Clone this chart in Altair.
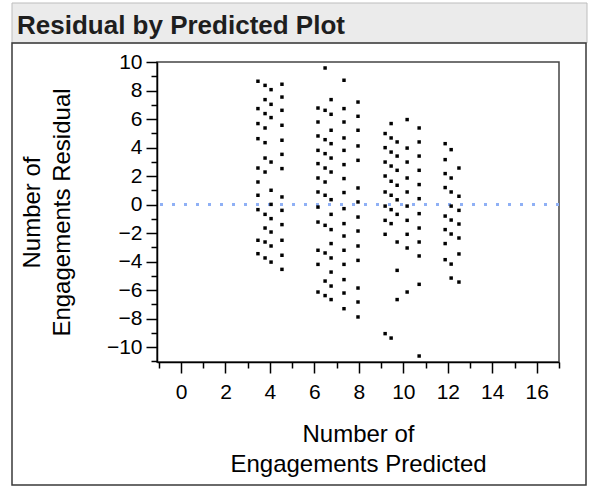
import altair as alt
import pandas as pd

# Predicted values (x) of each vertical column of points
pred_cols = [3.46, 3.78, 4.05, 4.54, 6.16, 6.48, 6.75, 7.33, 7.96,
             9.18, 9.45, 9.72, 10.17, 10.71, 11.88, 12.15, 12.5]

# Residuals read for each column
res_A = [8.65, 6.73, 5.68, 4.62, 2.56, 1.58, 0.65, -0.36, -2.51, -3.45]
res_B = [8.36, 7.36, 6.38, 5.37, 4.34, 3.26, 2.28, -0.69, -1.65, -2.63, -3.75]
res_C = [8.06, 7.03, 6.10, 2.98, 1.0, 0.01, -0.99, -1.93, -2.91, -4.04]
res_D = [8.44, 7.54, 6.61, 5.56, 4.51, 3.52, 2.52, 0.53, -0.41, -1.41, -2.51, -3.56, -4.55]
res_E = [6.77, 5.79, 4.81, 3.80, 2.87, 1.86, 0.88, -0.18, -1.23, -3.21, -4.20, -6.14]
res_F = [9.58, 6.61, 4.55, 3.57, 2.56, 1.58, 0.65, -1.46, -3.40, -5.37, -6.39]
res_G = [7.36, 6.33, 5.21, 4.27, 3.26, 2.28, 0.34, -0.69, -1.76, -2.74, -3.75, -4.74, -5.72, -6.67]
res_H = [8.72, 6.73, 5.79, 4.67, 3.80, 2.80, 1.82, 0.84, -0.29, -1.34, -2.21, -3.21, -4.20, -5.27, -6.21, -7.31]
res_I = [7.19, 6.19, 5.21, 4.11, 3.10, 1.16, 0.18, -0.88, -1.86, -2.91, -3.92, -5.86, -6.84, -7.89]
res_J = [4.98, 3.99, 2.98, 2.0, 0.88, -0.11, -1.11, -2.09, -9.06]
res_K = [5.68, 4.67, 3.68, 2.70, 1.63, 0.65, -0.36, -1.34, -9.37]
res_L = [4.39, 3.40, 2.40, 1.35, 0.33, -0.69, -2.63, -4.62, -6.67]
res_M = [5.96, 3.96, 2.98, 1.86, 0.88, -0.11, -1.11, -2.09, -3.05, -6.14]
res_N = [5.37, 4.39, 3.40, 2.40, 1.40, 0.41, -0.64, -1.65, -2.63, -3.61, -5.60, -10.63]
res_O = [4.27, 3.15, 2.17, 1.19, -0.81, -1.76, -2.74, -3.87]
res_P = [3.85, 1.86, 0.88, -0.11, -1.09, -2.07, -4.18, -5.16]
res_Q = [2.56, 0.58, -0.41, -1.37, -2.35, -3.47, -5.44]

res_cols = [res_A, res_B, res_C, res_D, res_E, res_F, res_G, res_H, res_I,
            res_J, res_K, res_L, res_M, res_N, res_O, res_P, res_Q]

x_major = [0, 2, 4, 6, 8, 10, 12, 14, 16]
x_minor = [-1, 1, 3, 5, 7, 9, 11, 13, 15, 17]
y_major = [-10, -8, -6, -4, -2, 0, 2, 4, 6, 8, 10]
y_minor = [-11, -9, -7, -5, -3, -1, 1, 3, 5, 7, 9]

title_text = "Residual by Predicted Plot"
x_title = ["Number of", "Engagements Predicted"]
y_title = ["Number of", "Engagements Residual"]

rows = []
for p, rs in zip(pred_cols, res_cols):
    for r in rs:
        rows.append({"pred": p, "resid": r})
df = pd.DataFrame(rows)

FONT = "Liberation Sans"
xscale = alt.Scale(domain=[-1.08, 17.0], nice=False, zero=False)
yscale = alt.Scale(domain=[-11.05, 10.0], nice=False, zero=False)

one = pd.DataFrame({"a": [0]})

title_bar = alt.Chart(one).mark_rect(
    fill="#ebebeb", stroke="#bdbdbd", strokeWidth=1
).encode(x=alt.value(-145), x2=alt.value(430), y=alt.value(-59), y2=alt.value(-19))

panel = alt.Chart(one).mark_rect(
    fill="white", fillOpacity=0, stroke="#3a3a3a", strokeWidth=1.5
).encode(x=alt.value(-145), x2=alt.value(429), y=alt.value(-19), y2=alt.value(423))

title = alt.Chart(one).mark_text(
    text=title_text, align="left", baseline="alphabetic", font=FONT,
    fontSize=26, fontWeight="bold", color="#1e1e1e"
).encode(x=alt.value(-140), y=alt.value(-28))

points = alt.Chart(df).mark_square(size=12, color="black", opacity=1).encode(
    x=alt.X("pred:Q", scale=xscale, axis=alt.Axis(
        orient="bottom", values=x_major, title=x_title, grid=False, zindex=1,
        labelFontSize=21, labelFont=FONT, labelColor="black", labelPadding=8,
        tickSize=11, tickWidth=1.5, tickColor="black",
        domainColor="black", domainWidth=1.5,
        titleFontSize=24, titleFont=FONT, titleFontWeight="normal",
        titleColor="black", titleLineHeight=30, titlePadding=20)),
    y=alt.Y("resid:Q", scale=yscale, axis=alt.Axis(
        orient="left", values=y_major, title=y_title, grid=False, zindex=1,
        labelFontSize=21, labelFont=FONT, labelColor="black", labelPadding=4,
        tickSize=11, tickWidth=1.5, tickColor="black",
        domainColor="black", domainWidth=1.5,
        titleFontSize=24, titleFont=FONT, titleFontWeight="normal",
        titleColor="black", titleLineHeight=30, titlePadding=32)),
)

minor = alt.Chart(df).mark_square(opacity=0).encode(
    x=alt.X("pred:Q", scale=xscale, axis=alt.Axis(
        orient="bottom", values=x_minor, labels=False, title=None, grid=False,
        zindex=1, domain=False, tickSize=6, tickWidth=1.5, tickColor="black")),
    y=alt.Y("resid:Q", scale=yscale, axis=alt.Axis(
        orient="left", values=y_minor, labels=False, title=None, grid=False,
        zindex=1, domain=False, tickSize=6, tickWidth=1.5, tickColor="black")),
)

zero_line = alt.Chart(one).mark_rule(
    color="#8fb0f5", strokeDash=[3, 9], strokeWidth=3
).encode(y=alt.Y(datum=0, scale=yscale, axis=None))

chart = alt.layer(
    title_bar, panel, title, zero_line, points, minor
).resolve_axis(x="independent", y="independent").properties(
    width=402, height=300,
    padding={"left": 157, "top": 62, "right": 30, "bottom": 130},
    autosize=alt.AutoSizeParams(type="none"),
    background="white",
).configure_view(stroke="#444444", strokeWidth=1.5)

chart.save("out.html", embed_options={"renderer": "svg", "actions": False})
